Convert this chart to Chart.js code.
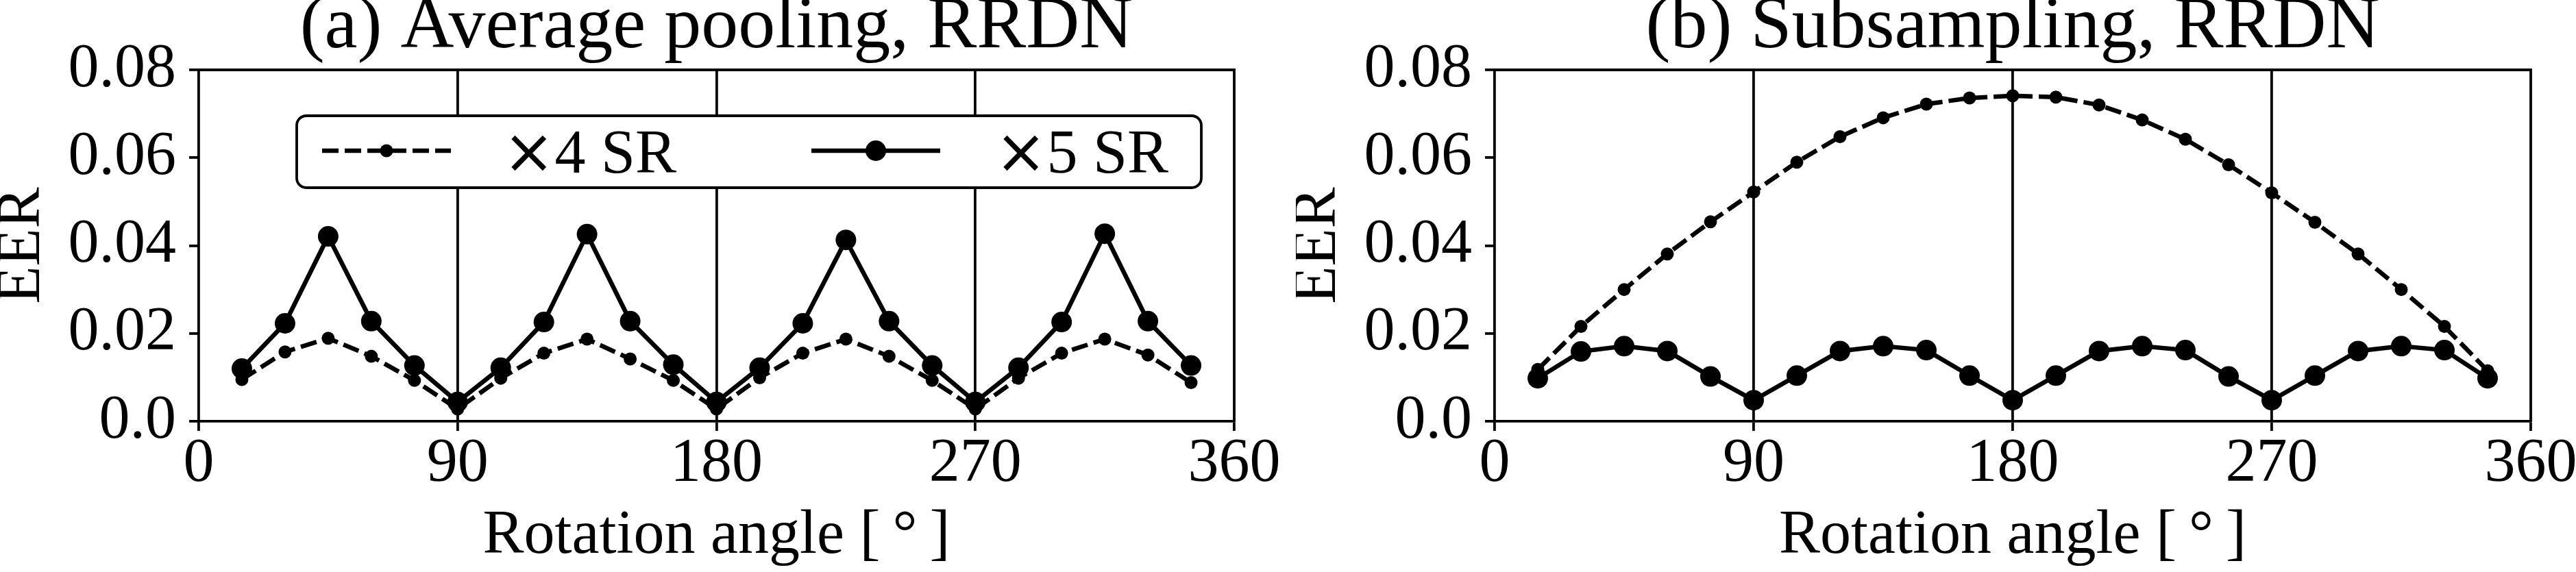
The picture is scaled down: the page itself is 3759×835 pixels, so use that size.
<!DOCTYPE html>
<html><head><meta charset="utf-8">
<script src="https://cdn.jsdelivr.net/npm/chart.js@4.4.1/dist/chart.umd.min.js"></script>
<style>
html,body{margin:0;padding:0;background:#fff;}
body{width:3759px;height:835px;position:relative;overflow:hidden;}
.panel{position:absolute;top:0;height:835px;}
canvas{display:block;}
</style></head><body>
<div class="panel" style="left:0;width:1880px"><canvas id="c1" width="1880" height="835"></canvas></div>
<div class="panel" style="left:1891px;width:1868px"><canvas id="c2" width="1868" height="835"></canvas></div>
<script>
// ---------- data ----------
const angles = [15,30,45,60,75,90,105,120,135,150,165,180,195,210,225,240,255,270,285,300,315,330,345];
const avgPoolX4 = [0.0095,0.0158,0.0189,0.0148,0.0093,0.0028,0.0098,0.0155,0.0187,0.0142,0.0093,0.0028,0.0099,0.0155,0.0187,0.0148,0.0093,0.0028,0.0098,0.0155,0.0187,0.0151,0.0088];
const avgPoolX5 = [0.0120,0.0223,0.0421,0.0228,0.0127,0.0044,0.0122,0.0226,0.0426,0.0228,0.0129,0.0044,0.0122,0.0223,0.0413,0.0228,0.0127,0.0044,0.0122,0.0226,0.0427,0.0228,0.0127];
const subsampX4 = [0.0118,0.0216,0.0300,0.0381,0.0454,0.0522,0.0590,0.0648,0.0691,0.0722,0.0736,0.0741,0.0738,0.0720,0.0686,0.0642,0.0584,0.0520,0.0453,0.0381,0.0300,0.0216,0.0115];
const subsampX5 = [0.0098,0.0159,0.0171,0.0160,0.0102,0.0048,0.0104,0.0160,0.0171,0.0162,0.0104,0.0048,0.0104,0.0160,0.0171,0.0162,0.0102,0.0048,0.0104,0.0160,0.0171,0.0162,0.0098];
const seriesLabels = ['\u00d74 SR','\u00d75 SR'];
const panelTitles = ['(a) Average pooling, RRDN','(b) Subsampling, RRDN'];
const xTicks = [0,90,180,270,360];
const xTickLabels = ['0','90','180','270','360'];
const yTicks = [0,0.02,0.04,0.06,0.08];
const yTickLabels = ['0.0','0.02','0.04','0.06','0.08'];
const xAxisTitle = 'Rotation angle [\u2009\u00b0\u2009]';
const yAxisTitle = 'EER';
const vLines = [90,180,270];

// ---------- styling ----------
const FONT = "'Liberation Serif','Times New Roman',serif";
const MATHFONT = "'DejaVu Sans',sans-serif";
Chart.defaults.font.family = FONT;
Chart.defaults.color = '#000';
const LW = 3.8;

const framePlugin = {
  id: 'frame',
  afterDatasetsDraw(chart) {
    const {ctx, chartArea: a} = chart;
    ctx.save();
    ctx.strokeStyle = '#000';
    ctx.lineWidth = LW;
    ctx.beginPath();
    ctx.moveTo(a.left, a.top); ctx.lineTo(a.right, a.top); ctx.lineTo(a.right, a.bottom);
    ctx.stroke();
    ctx.restore();
  }
};

const legendPlugin = {
  id: 'srLegend',
  afterDraw(chart, args, opts) {
    if (!opts || !opts.show) return;
    const ctx = chart.ctx;
    const b = opts.box;
    ctx.save();
    ctx.beginPath();
    ctx.roundRect(b.x, b.y, b.w, b.h, b.r);
    ctx.fillStyle = '#fff';
    ctx.fill();
    ctx.lineWidth = LW;
    ctx.strokeStyle = '#000';
    ctx.stroke();
    chart.data.datasets.forEach((ds, i) => {
      const it = opts.items[i];
      const ly = b.y + opts.lineY;
      ctx.strokeStyle = '#000';
      ctx.fillStyle = '#000';
      ctx.lineWidth = ds.borderWidth;
      ctx.setLineDash(ds.borderDash || []);
      ctx.beginPath();
      ctx.moveTo(b.x + it.lx, ly);
      ctx.lineTo(b.x + it.lx + opts.len, ly);
      ctx.stroke();
      ctx.setLineDash([]);
      ctx.beginPath();
      ctx.arc(b.x + it.lx + opts.len / 2, ly, ds.pointRadius, 0, Math.PI * 2);
      ctx.fill();
      ctx.textAlign = 'left';
      ctx.textBaseline = 'alphabetic';
      // the multiplication sign is typeset as math (sans), the rest in serif
      const sym = ds.label.charAt(0), rest = ds.label.slice(1);
      ctx.font = '90px ' + MATHFONT;
      ctx.fillText(sym, b.x + it.tx, b.y + opts.baseY);
      const w = ctx.measureText(sym).width;
      ctx.font = '90px ' + FONT;
      ctx.fillText(rest, b.x + it.tx + w, b.y + opts.baseY);
    });
    ctx.restore();
  }
};

function makeChart(id, title, x4, x5, rightPad, showLegend) {
  const pts = arr => angles.map((a, i) => ({x: a, y: arr[i]}));
  return new Chart(document.getElementById(id), {
    type: 'line',
    data: {
      datasets: [
        {label: seriesLabels[0], data: pts(x4), borderColor: '#000', backgroundColor: '#000',
         borderWidth: 6.5, borderDash: [24, 9], pointRadius: 9.5, pointBorderWidth: 0,
         pointBackgroundColor: '#000', tension: 0, order: 1},
        {label: seriesLabels[1], data: pts(x5), borderColor: '#000', backgroundColor: '#000',
         borderWidth: 6.5, pointRadius: 15, pointBorderWidth: 0,
         pointBackgroundColor: '#000', tension: 0, order: 0}
      ]
    },
    options: {
      responsive: false,
      animation: false,
      devicePixelRatio: 1,
      layout: {padding: {left: 0, right: rightPad, top: 0, bottom: 0}},
      scales: {
        x: {
          type: 'linear', min: 0, max: 360,
          afterBuildTicks: s => { s.ticks = xTicks.map(v => ({value: v})); },
          afterFit: s => { s.height = 220; s.paddingLeft = 0; s.paddingRight = 0; },
          ticks: {callback: (v, i) => xTickLabels[i], font: {size: 90, lineHeight: 1},
                  color: '#000', padding: 4.6, maxRotation: 0, autoSkip: false},
          grid: {color: c => (c.tick && vLines.includes(c.tick.value)) ? '#000' : 'rgba(0,0,0,0)',
                 lineWidth: LW, tickColor: '#000', tickWidth: LW, tickLength: 14, drawTicks: true},
          border: {display: true, color: '#000', width: LW},
          title: {display: true, text: xAxisTitle, color: '#000',
                  font: {size: 90, lineHeight: 1}, padding: {top: 0, bottom: 7}}
        },
        y: {
          type: 'linear', min: 0, max: 0.08,
          afterBuildTicks: s => { s.ticks = yTicks.map(v => ({value: v})); },
          afterFit: s => { s.width = 290; s.paddingTop = 0; s.paddingBottom = 0; },
          ticks: {callback: (v, i) => yTickLabels[i], font: {size: 90, lineHeight: 1},
                  color: '#000', padding: 19, autoSkip: false},
          grid: {color: 'rgba(0,0,0,0)', lineWidth: LW, tickColor: '#000', tickWidth: LW,
                 tickLength: 14, drawTicks: true},
          border: {display: true, color: '#000', width: LW},
          title: {display: true, text: yAxisTitle, color: '#000',
                  font: {size: 90, lineHeight: 0.7}, padding: {top: 1.5, bottom: 0}}
        }
      },
      plugins: {
        legend: {display: false},
        tooltip: {enabled: false},
        title: {display: true, text: title, fullSize: false, color: '#000',
                font: {size: 108, lineHeight: 0.76, weight: 'normal'},
                padding: {top: 0, bottom: 19.92}},
        srLegend: {show: showLegend,
                   box: {x: 433, y: 169, w: 1320, h: 105, r: 14},
                   lineY: 51, baseY: 83, len: 188,
                   items: [{lx: 37, tx: 301}, {lx: 751, tx: 1019}]}
      }
    },
    plugins: [framePlugin, legendPlugin]
  });
}

makeChart('c1', panelTitles[0], avgPoolX4, avgPoolX5, 79, true);
makeChart('c2', panelTitles[1], subsampX4, subsampX5, 66, false);
</script>
</body></html>
